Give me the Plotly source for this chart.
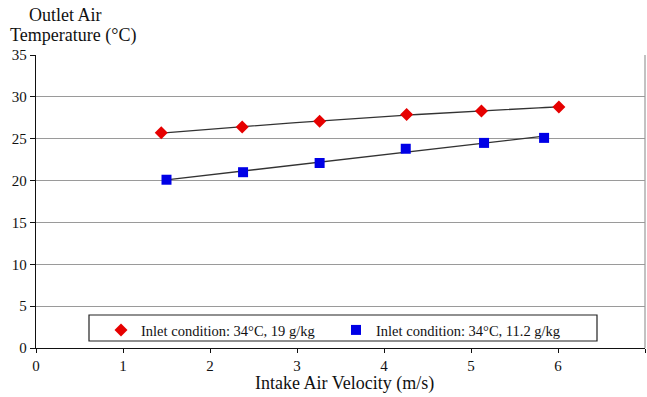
import numpy as np
import plotly.graph_objects as go

# Measured outlet air temperature vs. intake air velocity
vel_humid = [1.44, 2.37, 3.26, 4.26, 5.12, 6.01]
temp_humid = [25.7, 26.4, 27.1, 27.9, 28.3, 28.8]

vel_dry = [1.50, 2.38, 3.26, 4.25, 5.15, 5.84]
temp_dry = [20.1, 21.0, 22.1, 23.8, 24.5, 25.1]

x_ticks = [0, 1, 2, 3, 4, 5, 6, 7]
y_ticks = [0, 5, 10, 15, 20, 25, 30, 35]

SERIF = "Liberation Serif, Times New Roman, serif"

fig = go.Figure()

# Trend lines fitted to each data set
def trend(x, y, deg):
    coef = np.polyfit(x, y, deg)
    xs = np.linspace(min(x), max(x), 60)
    return xs, np.polyval(coef, xs)

tx, ty = trend(vel_humid, temp_humid, 2)
fig.add_trace(go.Scatter(x=tx, y=ty, mode="lines", showlegend=False,
                         line=dict(color="#333333", width=1.3), hoverinfo="skip"))
tx, ty = trend(vel_dry, temp_dry, 1)
fig.add_trace(go.Scatter(x=tx, y=ty, mode="lines", showlegend=False,
                         line=dict(color="#333333", width=1.3), hoverinfo="skip"))

fig.add_trace(go.Scatter(x=vel_humid, y=temp_humid, mode="markers",
                         name="Inlet condition: 34°C, 19 g/kg",
                         marker=dict(symbol="diamond", size=10, color="#e60000")))
fig.add_trace(go.Scatter(x=vel_dry, y=temp_dry, mode="markers",
                         name="Inlet condition: 34°C, 11.2 g/kg",
                         marker=dict(symbol="square", size=10, color="#0000e6")))

# Legend frame
fig.add_shape(type="rect", xref="paper", yref="paper",
              x0=(89 - 36) / 609, x1=(597 - 36) / 609,
              y0=(348 - 341) / 293, y1=(348 - 315) / 293,
              line=dict(color="#222222", width=1.2), fillcolor="white", layer="below")
# Right frame edge
fig.add_shape(type="line", xref="paper", yref="paper", x0=1, x1=1, y0=0, y1=1,
              line=dict(color="#999999", width=1.2))

title_font = dict(family=SERIF, size=18, color="#111111")
fig.add_annotation(text="Outlet Air", xref="paper", yref="paper",
                   x=(65 - 36) / 609, y=(348 - 15) / 293, xanchor="center", yanchor="middle",
                   showarrow=False, font=title_font)
fig.add_annotation(text="Temperature (°C)", xref="paper", yref="paper",
                   x=(73 - 36) / 609, y=(348 - 36) / 293, xanchor="center", yanchor="middle",
                   showarrow=False, font=title_font)
fig.add_annotation(text="Intake Air Velocity (m/s)", xref="paper", yref="paper",
                   x=(344 - 36) / 609, y=(348 - 383) / 293, xanchor="center", yanchor="middle",
                   showarrow=False, font=dict(family=SERIF, size=18, color="#111111"))

fig.update_layout(
    width=647, height=397,
    margin=dict(l=36, r=2, t=55, b=49),
    paper_bgcolor="white", plot_bgcolor="white",
    font=dict(family=SERIF, size=15, color="#111111"),
    showlegend=True,
    legend=dict(orientation="h", x=(101 - 36) / 609, y=(348 - 314) / 293,
                xanchor="left", yanchor="top", bgcolor="rgba(0,0,0,0)",
                entrywidth=190, entrywidthmode="pixels",
                font=dict(family=SERIF, size=14.5, color="#111111")),
    xaxis=dict(range=[0, 7], tickvals=x_ticks, showgrid=False, zeroline=False,
               showline=True, linecolor="#111111", linewidth=1.3,
               ticks="outside", ticklen=4, tickcolor="#111111"),
    yaxis=dict(range=[0, 35], tickvals=y_ticks, showgrid=True, gridcolor="#9a9a9a",
               gridwidth=1.3, zeroline=False, showline=True, linecolor="#111111",
               linewidth=1.3, ticks="outside", ticklen=5, tickcolor="#111111"),
)

fig.write_html("out.html")
